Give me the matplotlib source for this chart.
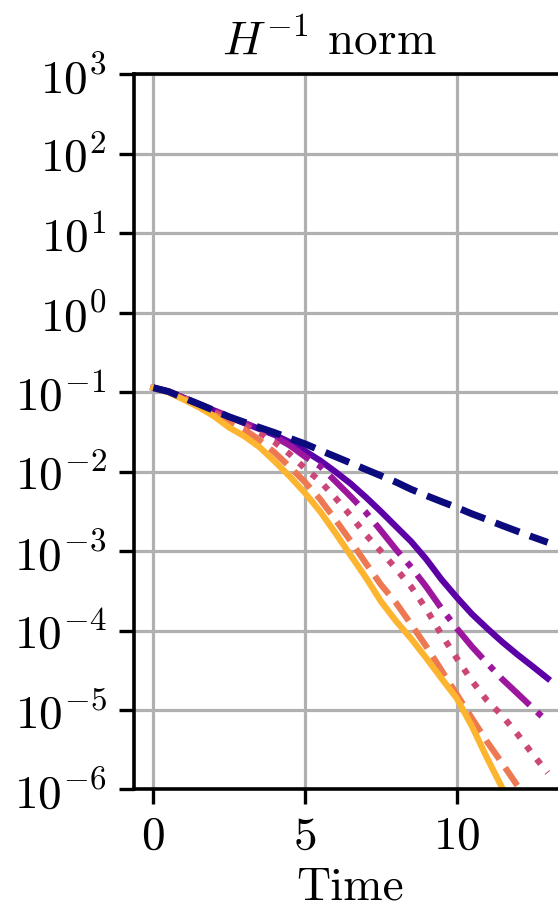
import numpy as np
import matplotlib
matplotlib.use("Agg")
import matplotlib.pyplot as plt

plt.rcParams["mathtext.fontset"] = "cm"
plt.rcParams["font.family"] = "serif"
plt.rcParams["font.serif"] = ["cmr10", "DejaVu Serif"]
plt.rcParams["axes.formatter.use_mathtext"] = True
plt.rcParams["axes.unicode_minus"] = False

# time grid shared by all runs
t = [0, 0.5, 1, 1.5, 2, 2.5, 3, 3.5, 4, 4.5, 5, 5.5, 6, 6.5, 7, 7.5, 8, 8.5,
     9, 9.5, 10, 10.5, 11, 11.5, 12, 12.5, 13]

# H^{-1} norm of the error for each run
err_ref = [1.14e-1, 1.02e-1, 8.5e-2, 7.1e-2, 5.9e-2, 4.9e-2, 4.2e-2, 3.6e-2, 3.1e-2,
           2.63e-2, 2.24e-2, 1.86e-2, 1.55e-2, 1.29e-2, 1.07e-2, 8.9e-3, 7.4e-3, 6.0e-3,
           5.0e-3, 4.2e-3, 3.55e-3, 2.95e-3, 2.5e-3, 2.1e-3, 1.78e-3, 1.51e-3, 1.29e-3]
err_1 = [1.14e-1, 1.02e-1, 8.5e-2, 7.1e-2, 5.9e-2, 4.9e-2, 4.1e-2, 3.45e-2, 2.9e-2,
         2.35e-2, 1.82e-2, 1.38e-2, 1.0e-2, 7.1e-3, 4.8e-3, 3.16e-3, 2.04e-3, 1.32e-3,
         7.9e-4, 4.4e-4, 2.63e-4, 1.62e-4, 1.07e-4, 7.2e-5, 5.0e-5, 3.55e-5, 2.5e-5]
err_2 = [1.14e-1, 1.02e-1, 8.5e-2, 7.1e-2, 5.9e-2, 4.9e-2, 4.1e-2, 3.4e-2, 2.75e-2,
         2.14e-2, 1.55e-2, 1.17e-2, 7.6e-3, 4.9e-3, 3.1e-3, 1.82e-3, 1.05e-3, 6.3e-4,
         3.55e-4, 1.9e-4, 1.07e-4, 6.3e-5, 3.9e-5, 2.45e-5, 1.62e-5, 1.07e-5, 7.1e-6]
err_3 = [1.14e-1, 1.02e-1, 8.5e-2, 6.9e-2, 5.6e-2, 4.7e-2, 3.8e-2, 3.1e-2, 2.35e-2,
         1.66e-2, 1.1e-2, 7.6e-3, 4.7e-3, 2.8e-3, 1.62e-3, 1.0e-3, 6.0e-4, 3.55e-4,
         1.86e-4, 8.9e-5, 4.5e-5, 2.34e-5, 1.32e-5, 8.5e-6, 5.0e-6, 2.8e-6, 1.62e-6]
err_4 = [1.14e-1, 1.02e-1, 8.3e-2, 6.6e-2, 5.2e-2, 4.3e-2, 3.4e-2, 2.5e-2, 1.74e-2,
         1.15e-2, 7.4e-3, 4.5e-3, 2.5e-3, 1.35e-3, 7.1e-4, 3.8e-4, 2.24e-4, 1.2e-4,
         6.3e-5, 3.16e-5, 1.58e-5, 7.9e-6, 4.0e-6, 2.14e-6, 1.12e-6]
err_5 = [1.14e-1, 1.0e-1, 8.1e-2, 6.5e-2, 5.0e-2, 3.6e-2, 2.8e-2, 2.04e-2, 1.35e-2,
         8.7e-3, 5.4e-3, 3.16e-3, 1.7e-3, 8.9e-4, 4.7e-4, 2.34e-4, 1.32e-4, 7.9e-5,
         4.5e-5, 2.5e-5, 1.41e-5, 6.3e-6, 2.5e-6, 1.05e-6, 4.5e-7]

runs = [
    (err_1, "#5c01a6", "-"),
    (err_2, "#9c179e", "-."),
    (err_3, "#cc4778", ":"),
    (err_4, "#ed7953", "--"),
    (err_5, "#fdb42f", "-"),
]

fig = plt.figure(figsize=(5.58, 9.15), dpi=100)
ax = fig.add_axes([0.2394, 0.1372, 0.7774, 0.7814])

for err, color, ls in runs:
    ax.plot(t[:len(err)], err, color=color, linestyle=ls, linewidth=4.5)
ax.plot(t, err_ref, color="#0b0b7d", linestyle="--", linewidth=5.0)

ax.set_yscale("log")
ax.set_ylim(1e-6, 1e3)
ax.set_xlim(-0.65, 13.65)
ax.set_xticks([0, 5, 10])
ax.set_yticks([10.0 ** k for k in range(-6, 4)])

ax.grid(True, which="major", color="#b0b0b0", linewidth=2.3)
ax.set_axisbelow(True)
for side in ["left", "bottom", "top"]:
    ax.spines[side].set_linewidth(2.6)
ax.spines["right"].set_visible(False)

ax.tick_params(axis="both", which="major", length=10.5, width=2.4,
               labelsize=34, pad=9)
ax.tick_params(axis="y", which="minor", length=5.8, width=1.6)

ax.set_xlabel("Time", fontsize=34, labelpad=6)
ax.set_title(r"$H^{-1}$ norm", fontsize=34, x=0.45, pad=14)

fig.savefig("out.png", dpi=100)
